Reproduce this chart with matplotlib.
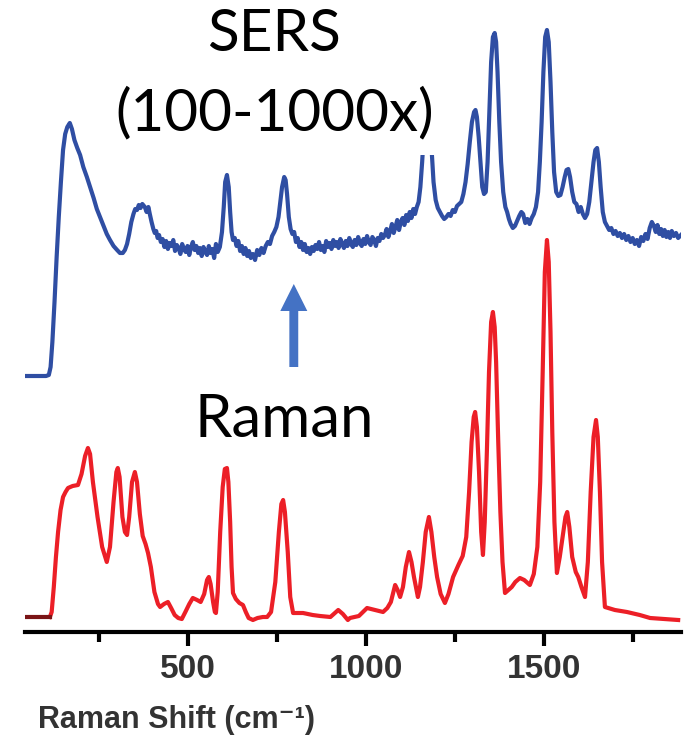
import numpy as np
import matplotlib.pyplot as plt
from matplotlib.patches import FancyArrow
from matplotlib.ticker import FixedLocator

# SERS spectrum (blue), Raman shift in cm-1 vs intensity (a.u.)
sers_shift = [41, 100, 108, 113, 118, 124, 130, 136, 142, 148, 154, 160, 167, 173, 180, 188,
              196, 205, 215, 224, 234, 243, 252, 262, 271, 280, 290, 300, 308, 316, 322, 328,
              334, 340, 346, 351, 356, 361, 366, 371, 378, 383, 388, 392, 397, 402, 406, 410,
              414, 418, 423, 428, 433, 438, 443, 448, 453, 458, 463, 468, 473, 478, 483, 488,
              493, 498, 503, 508, 513, 518, 523, 528, 533, 538, 543, 548, 553, 558, 563, 568,
              573, 578, 583, 589, 595, 600, 604, 609, 614, 618, 622, 626, 631, 636, 641, 646,
              651, 656, 661, 666, 671, 676, 682, 688, 694, 700, 706, 712, 718, 724, 730, 736,
              742, 748, 754, 759, 764, 770, 774, 778, 783, 788, 793, 798, 803, 808, 813, 818,
              823, 828, 833, 838, 843, 848, 853, 858, 863, 868, 873, 878, 883, 888, 893, 898,
              903, 908, 913, 918, 923, 928, 933, 938, 943, 948, 953, 958, 963, 968, 973, 978,
              983, 988, 993, 998, 1003, 1008, 1013, 1018, 1023, 1028, 1033, 1038, 1043, 1048,
              1053, 1058, 1063, 1068, 1073, 1078, 1083, 1088, 1093, 1098, 1103, 1108, 1113,
              1118, 1123, 1128, 1133, 1138, 1143, 1148, 1153, 1158, 1163, 1168, 1174, 1180,
              1185, 1190, 1196, 1202, 1208, 1214, 1220, 1226, 1232, 1238, 1244, 1250, 1256,
              1262, 1268, 1274, 1280, 1286, 1292, 1298, 1304, 1308, 1312, 1317, 1322, 1327,
              1332, 1337, 1342, 1347, 1352, 1357, 1362, 1366, 1370, 1375, 1380, 1386, 1392,
              1397, 1402, 1407, 1413, 1419, 1425, 1431, 1437, 1442, 1448, 1454, 1460, 1466,
              1472, 1478, 1484, 1489, 1494, 1499, 1504, 1509, 1514, 1519, 1524, 1529, 1535,
              1541, 1547, 1553, 1559, 1564, 1569, 1574, 1580, 1586, 1592, 1598, 1604, 1610,
              1616, 1622, 1628, 1634, 1640, 1645, 1650, 1655, 1660, 1666, 1672, 1678, 1684,
              1690, 1696, 1702, 1708, 1714, 1720, 1726, 1732, 1738, 1744, 1750, 1756, 1762,
              1768, 1774, 1780, 1786, 1792, 1798, 1804, 1810, 1815, 1820, 1825, 1830, 1835,
              1840, 1845, 1850, 1855, 1860, 1866, 1872, 1878, 1886]
sers_int = [256, 256, 257, 265, 290, 330, 375, 415, 450, 482, 498, 505, 509, 503, 492, 484,
            477, 465, 455, 445, 434, 423, 415, 406, 398, 392, 386, 382, 379, 379, 382, 388,
            398, 410, 418, 423, 422, 427, 424, 428, 425, 420, 425, 418, 410, 403, 399, 401,
            394, 397, 390, 393, 385, 391, 383, 389, 386, 392, 381, 387, 384, 378, 388, 383,
            380, 386, 377, 385, 390, 382, 386, 379, 384, 376, 385, 380, 377, 386, 379, 383,
            374, 388, 380, 385, 400, 425, 450, 457, 445, 420, 400, 392, 394, 386, 391, 381,
            386, 378, 384, 376, 381, 374, 378, 372, 382, 377, 384, 379, 386, 390, 388, 396,
            400, 405, 415, 430, 445, 455, 452, 438, 415, 403, 398, 400, 390, 394, 385, 390,
            382, 388, 380, 384, 378, 385, 381, 387, 383, 390, 382, 386, 380, 391, 385, 389,
            383, 392, 386, 390, 384, 393, 388, 384, 391, 386, 394, 388, 385, 392, 387, 395,
            389, 386, 393, 388, 396, 390, 387, 395, 392, 386, 394, 391, 398, 394,
            397, 403, 395, 401, 408, 399, 405, 412, 402, 410, 414, 407, 417,
            411, 420, 414, 423, 418, 425, 430, 445, 470, 500, 520, 525, 515,
            480, 450, 432, 424, 420, 416, 413, 415, 418, 416, 422, 420, 426,
            428, 430, 438, 450, 468, 490, 510, 520, 522, 515, 495, 470, 445,
            438, 440, 470, 520, 570, 595, 599, 590, 560, 510, 470, 440, 425,
            420, 413, 408, 404, 406, 411, 416, 420, 418, 409, 413, 408, 414,
            418, 425, 440, 470, 510, 560, 595, 602, 590, 550, 500, 460, 440,
            436, 437, 445, 455, 462, 463, 455, 440, 430, 428, 420, 425, 418,
            414, 418, 430, 450, 470, 482, 484, 470, 445, 420, 410, 406, 402,
            404, 398, 401, 396, 399, 394, 398, 392, 396, 390, 394, 388, 392,
            386, 395, 391, 398, 393, 404, 410, 406, 400, 407, 398, 403, 396,
            402, 395, 400, 394, 401, 396, 399, 394, 397]

# normal Raman spectrum (red); first two points are the dark-red start segment
raman_shift = [41, 111, 116, 122, 128, 134, 141, 148, 155, 162, 175, 190, 200, 210, 218, 224,
               232, 245, 258, 271, 280, 290, 298, 302, 307, 315, 322, 328, 334, 342, 350, 356,
               364, 372, 380, 387, 395, 405, 415, 421, 432, 443, 452, 462, 472, 482, 492, 503,
               513, 525, 535, 545, 553, 558, 563, 570, 575, 578, 583, 590, 597, 603, 609, 613,
               618, 622, 626, 634, 644, 654, 662, 670, 682, 695, 710, 722, 733, 745, 755, 762,
               767, 772, 780, 787, 795, 823, 850, 871, 900, 922, 935, 949, 955, 980, 1003, 1025,
               1048, 1060, 1070, 1077, 1082, 1089, 1096, 1104, 1112, 1121, 1128, 1135, 1146,
               1152, 1160, 1168, 1177, 1184, 1192, 1200, 1210, 1222, 1232, 1245, 1260, 1272,
               1282, 1290, 1297, 1303, 1307, 1312, 1318, 1324, 1329, 1334, 1340, 1346, 1352,
               1357, 1362, 1366, 1372, 1378, 1384, 1391, 1410, 1420, 1433, 1445, 1461, 1472,
               1482, 1490, 1497, 1503, 1509, 1514, 1519, 1524, 1530, 1537, 1545, 1555, 1561,
               1566, 1572, 1580, 1590, 1597, 1606, 1616, 1624, 1632, 1640, 1647, 1652, 1658,
               1664, 1672, 1700, 1734, 1770, 1799, 1840, 1878]
raman_int = [15, 15, 20, 45, 75, 100, 122, 135, 140, 144, 146, 147, 158, 176, 184, 178,
             150, 115, 85, 70, 85, 130, 160, 164, 155, 115, 100, 97, 115, 150, 160, 150,
             118, 96, 88, 79, 65, 40, 28, 25, 28, 30, 24, 17, 14, 13, 20, 28,
             34, 32, 30, 38, 52, 55, 48, 30, 20, 19, 40, 100, 145, 163, 164, 150,
             110, 65, 39, 33, 29, 27, 20, 14, 12, 14, 15, 15, 20, 50, 100, 128,
             132, 120, 80, 35, 19, 19, 17, 16, 15, 22, 18, 12, 14, 16, 24, 22,
             20, 24, 30, 40, 47, 42, 35, 45, 65, 80, 70, 55, 35,
             45, 70, 100, 115, 100, 75, 55, 38, 29, 38, 55, 67, 76,
             95, 140, 190, 215, 220, 205, 160, 100, 77, 110, 180, 260, 310,
             320, 305, 270, 190, 120, 70, 39, 45, 50, 54, 52, 47, 58,
             85, 150, 260, 360, 392, 370, 300, 200, 110, 59, 75, 100, 115,
             120, 105, 75, 60, 55, 45, 35, 70, 140, 195, 212, 195, 140,
             70, 25, 22, 20, 17, 14, 13, 12]

fig = plt.figure(figsize=(6.88, 7.45), dpi=100)
ax = fig.add_axes([25 / 688, 113 / 745, 656 / 688, 632 / 745])

ax.plot(sers_shift, sers_int, color='#2f4ea3', lw=3, zorder=2)
ax.plot(raman_shift[1:], raman_int[1:], color='#ec1f27', lw=3, zorder=2)
ax.plot(raman_shift[:2], raman_int[:2], color='#7a1416', lw=3, zorder=3)

ax.set_xlim(41, 1886)
ax.set_ylim(0, 632)

for s in ['left', 'right', 'top']:
    ax.spines[s].set_visible(False)
ax.spines['bottom'].set_linewidth(3)
ax.set_yticks([])
ax.set_xticks([500, 1000, 1500])
ax.xaxis.set_minor_locator(FixedLocator([250, 750, 1250, 1750]))
ax.tick_params(axis='x', which='major', length=10, width=3, direction='out', pad=6)
ax.tick_params(axis='x', which='minor', length=7, width=3, direction='out')
for lab in ax.get_xticklabels():
    lab.set_fontfamily('Liberation Sans')
    lab.set_fontweight('bold')
    lab.set_fontsize(24)
    lab.set_color('#333333')
ax.set_xlabel('Raman Shift (cm\u207b\u00b9)', fontsize=22, fontweight='bold',
              family=['Liberation Sans', 'DejaVu Sans'], color='#333333')
ax.xaxis.set_label_coords(151 / 656, -73 / 632)

# annotations
ax.text(0.38, 0.945, 'SERS', transform=ax.transAxes, ha='center', va='center',
        fontsize=42, family='Lato', color='black')
ax.text(0.38, 0.82, '(100-1000x)', transform=ax.transAxes, ha='center', va='center',
        fontsize=42, family='Lato', color='black', zorder=5,
        bbox=dict(facecolor='white', edgecolor='none', pad=10))
ax.text(0.395, 0.335, 'Raman', transform=ax.transAxes, ha='center', va='center',
        fontsize=43, family='Lato', color='black')

ax.add_patch(FancyArrow(797, 265, 0, 83, width=25, head_width=76, head_length=27,
                        length_includes_head=True, color='#4472c4', lw=0))

plt.savefig('out.png', dpi=100)
